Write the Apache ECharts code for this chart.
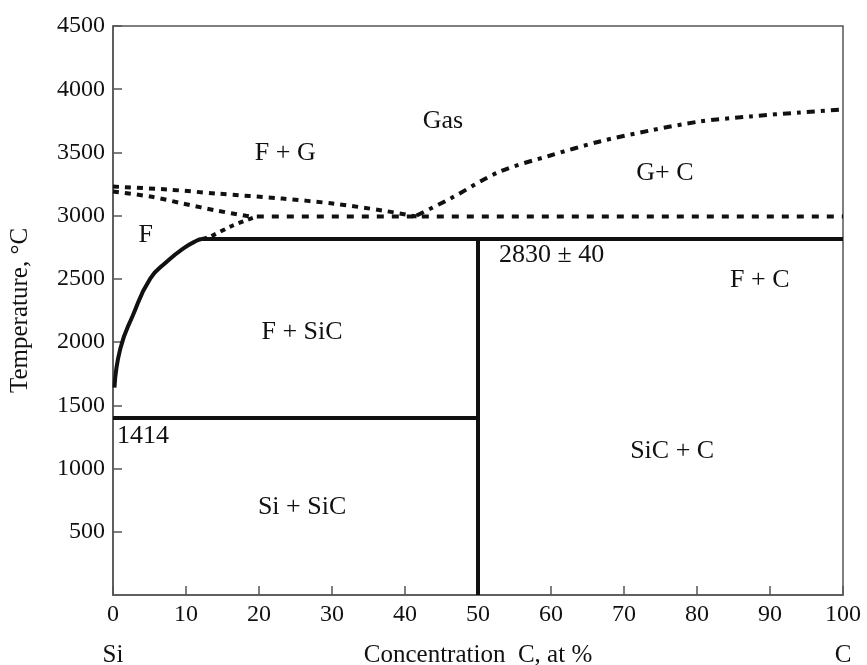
<!DOCTYPE html>
<html>
<head>
<meta charset="utf-8">
<script src="https://cdn.jsdelivr.net/npm/echarts@6/dist/echarts.min.js"></script>
<style>
  html, body { margin: 0; padding: 0; background: #fff; }
  #chart { width: 867px; height: 665px; }
</style>
</head>
<body>
<div id="chart"></div>
<script>
// concentration C (at %) / temperature (°C) pairs
const liquidus = [[0.2, 1640], [1, 1948], [2.7, 2209], [5.1, 2502], [7.4, 2637], [9.6, 2740], [11.5, 2803], [12.2, 2815]]
const peritectic = [[12.2, 2815], [100, 2815]]
const sicLine = [[50, 0], [50, 2815]]
const eutectic = [[0, 1400], [50, 1400]]
const upperCurve = [[0, 3230], [7.4, 3207], [14.2, 3175], [23.2, 3135], [30.1, 3096], [37, 3040], [41.6, 2993]]
const lowerCurve = [[0, 3191], [5.1, 3151], [9.6, 3096], [14.2, 3040], [18.8, 2993]]
const riseCurve = [[12.2, 2815], [13.3, 2834], [16.4, 2922], [19.7, 2993]]
const gasLine = [[19.7, 2993], [100, 2993]]
const gasCurve = [[41.6, 3001], [46.2, 3135], [53, 3349], [59.9, 3476], [66.7, 3587], [73.6, 3674], [80.4, 3745], [87.3, 3785], [94.1, 3816], [100, 3840]]

const regionLabels = [
  [45.2, 3745, 'Gas'],
  [23.6, 3492, 'F + G'],
  [75.6, 3333, 'G+ C'],
  [4.5, 2842, 'F'],
  [60.1, 2687, '2830 ± 40'],
  [88.6, 2486, 'F + C'],
  [25.9, 2082, 'F + SiC'],
  [4.1, 1259, '1414'],
  [76.6, 1140, 'SiC + C'],
  [25.9, 697, 'Si + SiC']
]

const font = 'Liberation Serif'
const ink = '#111'
const axisGray = '#555'

const solid = (data) => ({
  type: 'line', data, symbol: 'none',
  lineStyle: { color: ink, width: 4 }
})
const dashed = (data, dash) => ({
  type: 'line', data, symbol: 'none', smooth: 0.3,
  lineStyle: { color: ink, width: 4, type: dash }
})

const myChart = echarts.init(document.getElementById('chart'))
const option = {
  animation: false,
  backgroundColor: '#fff',
  textStyle: { fontFamily: font },
  grid: {
    left: 113, right: 24, top: 26, bottom: 70,
    outerBoundsMode: 'none', containLabel: false,
    show: true, borderColor: axisGray, borderWidth: 1.5
  },
  xAxis: [
    {
      type: 'value', min: 0, max: 100, interval: 10,
      axisLine: { lineStyle: { color: axisGray, width: 1.5 } },
      axisTick: { inside: true, length: 9, lineStyle: { color: axisGray, width: 1.5 } },
      axisLabel: { color: ink, fontSize: 24, fontFamily: font, margin: 8 },
      splitLine: { show: false }
    },
    {
      type: 'value', min: 0, max: 100, interval: 100, position: 'bottom',
      axisLine: { show: false }, axisTick: { show: false }, splitLine: { show: false },
      axisLabel: {
        color: ink, fontSize: 25, fontFamily: font, margin: 48,
        formatter: v => v === 0 ? 'Si' : 'C'
      },
      name: 'Concentration  C, at %',
      nameLocation: 'middle', nameGap: 48, nameMoveOverlap: false,
      nameTextStyle: { color: ink, fontSize: 25, fontFamily: font }
    }
  ],
  yAxis: {
    type: 'value', min: 0, max: 4500, interval: 500,
    name: 'Temperature, °C', nameLocation: 'middle', nameGap: 80, nameRotate: 90,
    nameMoveOverlap: false,
    nameTextStyle: { color: ink, fontSize: 25, fontFamily: font },
    axisLine: { show: true, lineStyle: { color: axisGray, width: 1.5 } },
    axisTick: { show: true, inside: true, length: 9, lineStyle: { color: axisGray, width: 1.5 } },
    axisLabel: {
      color: ink, fontSize: 24, fontFamily: font, margin: 8, showMinLabel: false,
      formatter: v => String(v)
    },
    splitLine: { show: false }
  },
  series: [
    { ...solid(liquidus), smooth: 0.5 },
    solid(peritectic),
    solid(sicLine),
    solid(eutectic),
    dashed(upperCurve, [6, 6]),
    dashed(lowerCurve, [6, 6]),
    dashed(riseCurve, [5, 5]),
    { ...dashed(gasLine, [7, 8]), smooth: false },
    dashed(gasCurve, [8, 6, 4, 6]),
    {
      type: 'scatter',
      symbolSize: 0,
      itemStyle: { opacity: 1 },
      data: regionLabels.map(d => ({ value: [d[0], d[1]], name: d[2] })),
      label: {
        show: true, position: 'inside', formatter: p => p.name,
        color: ink, fontSize: 26, fontFamily: font
      },
      silent: true
    }
  ]
}
myChart.setOption(option)
</script>
</body>
</html>
